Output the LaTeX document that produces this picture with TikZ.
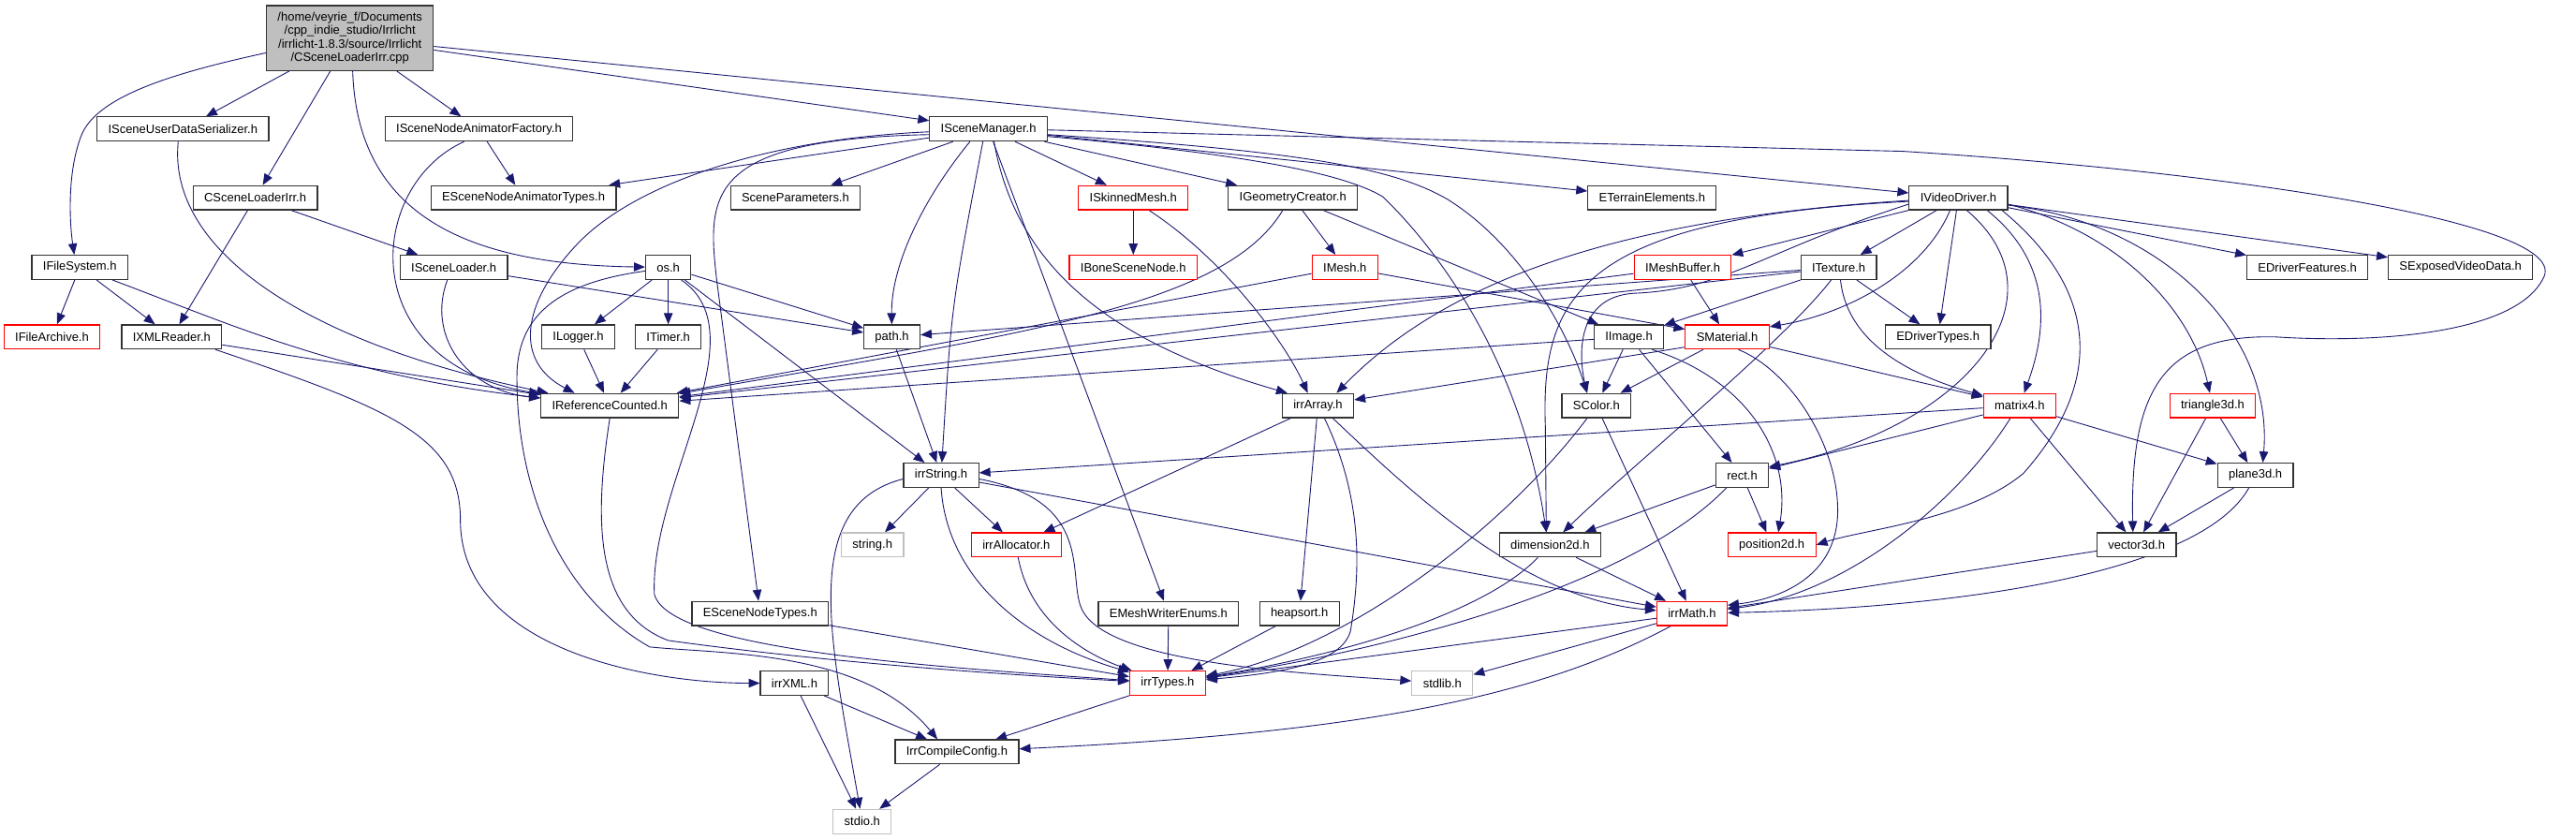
\documentclass[tikz,border=0pt]{standalone}
\usepackage{fontspec}
\newfontfamily\graphfont{Liberation Sans}
\usetikzlibrary{arrows.meta}
\definecolor{edgeblue}{HTML}{191970}
\definecolor{rootgray}{HTML}{BFBFBF}
\definecolor{sysgray}{HTML}{C0C0C0}
\pgfdeclarelayer{bg}
\pgfdeclarelayer{edges}
\pgfsetlayers{bg,edges,main}
\begin{document}
\begin{tikzpicture}[x=1pt, y=-1pt, font=\graphfont\fontsize{13.1pt}{14.7pt}\selectfont, >={Triangle[length=12pt,width=9.5pt]},
    hdr/.style={draw=black!80, fill=white, line width=1.2pt, minimum height=26pt, inner xsep=12pt, inner ysep=0pt},
    hdrred/.style={hdr, draw=red},
    hdrsys/.style={hdr, draw=sysgray},
    src/.style={hdr, fill=rootgray, minimum width=178pt, minimum height=70pt, align=center},
    dep/.style={->, draw=edgeblue, line width=0.9pt}]
  \begin{pgfonlayer}{bg}
    \path[fill=white] (0,0) rectangle (2751,904);
  \end{pgfonlayer}
  \node[src] (cpp) at (377,41) {/home/veyrie\_f/Documents\\/cpp\_indie\_studio/Irrlicht\\/irrlicht-1.8.3/source/Irrlicht\\/CSceneLoaderIrr.cpp};
  \node[hdr] (usrser) at (197,139) {ISceneUserDataSerializer.h};
  \node[hdr] (animfac) at (516,139) {ISceneNodeAnimatorFactory.h};
  \node[hdr] (smgr) at (1065,139) {ISceneManager.h};
  \node[hdr] (ldrirr) at (275,213) {CSceneLoaderIrr.h};
  \node[hdr] (animtyp) at (564,213) {ESceneNodeAnimatorTypes.h};
  \node[hdr] (params) at (857,213) {SceneParameters.h};
  \node[hdrred] (skinned) at (1221,213) {ISkinnedMesh.h};
  \node[hdr] (geocr) at (1393,213) {IGeometryCreator.h};
  \node[hdr] (terrain) at (1780,213) {ETerrainElements.h};
  \node[hdr] (driver) at (2110,213) {IVideoDriver.h};
  \node[hdr] (filesys) at (86,288) {IFileSystem.h};
  \node[hdr] (sldr) at (489,288) {ISceneLoader.h};
  \node[hdr] (os) at (720,288) {os.h};
  \node[hdrred] (bone) at (1221,288) {IBoneSceneNode.h};
  \node[hdrred] (mesh) at (1449,288) {IMesh.h};
  \node[hdrred] (mbuf) at (1813,288) {IMeshBuffer.h};
  \node[hdr] (tex) at (1981,288) {ITexture.h};
  \node[hdr] (dfeat) at (2486,288) {EDriverFeatures.h};
  \node[hdr] (expvid) at (2651,288) {SExposedVideoData.h};
  \node[hdrred] (archive) at (56,363) {IFileArchive.h};
  \node[hdr] (xmlrd) at (185,363) {IXMLReader.h};
  \node[hdr] (logger) at (623,363) {ILogger.h};
  \node[hdr] (timer) at (720,363) {ITimer.h};
  \node[hdr] (path) at (961,363) {path.h};
  \node[hdr] (image) at (1755,363) {IImage.h};
  \node[hdrred] (smat) at (1861,363) {SMaterial.h};
  \node[hdr] (dtypes) at (2088,363) {EDriverTypes.h};
  \node[hdr] (refcnt) at (657,437) {IReferenceCounted.h};
  \node[hdr] (arr) at (1420,437) {irrArray.h};
  \node[hdr] (color) at (1720,437) {SColor.h};
  \node[hdrred] (mat4) at (2176,437) {matrix4.h};
  \node[hdrred] (tri3) at (2384,437) {triangle3d.h};
  \node[hdr] (str) at (1014,512) {irrString.h};
  \node[hdr] (rect) at (1877,512) {rect.h};
  \node[hdr] (plane) at (2430,512) {plane3d.h};
  \node[hdrsys] (stringh) at (940,587) {string.h};
  \node[hdrred] (alloc) at (1095,587) {irrAllocator.h};
  \node[hdr] (dim) at (1670,587) {dimension2d.h};
  \node[hdrred] (pos) at (1909,587) {position2d.h};
  \node[hdr] (vec) at (2302,587) {vector3d.h};
  \node[hdr] (sntypes) at (819,661) {ESceneNodeTypes.h};
  \node[hdr] (mwenum) at (1259,661) {EMeshWriterEnums.h};
  \node[hdr] (heap) at (1400,661) {heapsort.h};
  \node[hdrred] (math) at (1823,661) {irrMath.h};
  \node[hdr] (xml) at (856,736) {irrXML.h};
  \node[hdrred] (types) at (1258,736) {irrTypes.h};
  \node[hdrsys] (stdlib) at (1554,736) {stdlib.h};
  \node[hdr] (cfg) at (1031,810) {IrrCompileConfig.h};
  \node[hdrsys] (stdio) at (929,885) {stdio.h};
  \begin{pgfonlayer}{edges}
  \draw[dep] (cpp) -- (usrser);
  \draw[dep] (cpp) -- (ldrirr);
  \draw[dep] (cpp) -- (animfac);
  \draw[dep] (cpp) -- (smgr);
  \draw[dep] (cpp) -- (driver);
  \draw[dep] (cpp.190) .. controls (180,80) and (105,105) .. (88,145) .. controls (72,185) and (75,240) .. ([xshift=-6pt]filesys.north);
  \draw[dep] ([xshift=3pt]cpp.south) .. controls (385,230) and (500,285) .. (os);
  \draw[dep] (smgr) -- (params);
  \draw[dep] (smgr) -- (skinned);
  \draw[dep] (smgr) -- (geocr);
  \draw[dep] (smgr) -- (terrain);
  \draw[dep] (smgr) -- (animtyp);
  \draw[dep] (smgr) -- (mwenum);
  \draw[dep] ([xshift=-6pt]smgr.south) .. controls (1025,330) .. (str);
  \draw[dep] ([xshift=-20pt]smgr.south) .. controls (990,220) and (960,290) .. (path);
  \draw[dep] ([yshift=-3pt]smgr.west) .. controls (820,150) and (680,200) .. (620,265) .. controls (560,330) and (555,390) .. ([xshift=-38pt]refcnt.north);
  \draw[dep] ([yshift=-6pt]smgr.west) .. controls (760,150) and (762,210) .. (772,300) -- (sntypes);
  \draw[dep] ([xshift=6pt]smgr.south) .. controls (1095,290) and (1200,370) .. ([xshift=-33pt]arr.north);
  \draw[dep] ([yshift=-8pt]smgr.east) .. controls (1330,165) and (1445,185) .. (1490,212) .. controls (1560,280) and (1640,400) .. ([xshift=-4pt]dim.north);
  \draw[dep] ([yshift=-6pt]smgr.east) .. controls (1400,163) and (1500,180) .. (1560,215) .. controls (1640,265) and (1690,360) .. ([xshift=-10pt]color.north);
  \draw[dep] ([yshift=-1pt]smgr.east) -- (2050,163) .. controls (2400,185) and (2775,240) .. (2740,300) .. controls (2710,360) and (2560,370) .. (2452,363) .. controls (2330,360) and (2295,420) .. ([xshift=-4pt]vec.north);
  \draw[dep] (driver) -- (mbuf);
  \draw[dep] (driver) -- (tex);
  \draw[dep] (driver) -- (dtypes);
  \draw[dep] (driver) -- (dfeat);
  \draw[dep] (driver) -- (expvid);
  \draw[dep] ([xshift=31pt]driver.south) .. controls (2220,290) and (2200,370) .. (mat4);
  \draw[dep] ([yshift=-7pt]driver.east) .. controls (2280,250) and (2360,330) .. (tri3);
  \draw[dep] ([yshift=-8pt]driver.east) .. controls (2330,240) and (2450,360) .. ([xshift=8pt]plane.north);
  \draw[dep] ([xshift=47pt]driver.south) .. controls (2270,320) and (2260,420) .. (2180,510) .. controls (2120,560) and (2010,570) .. (pos.east);
  \draw[dep] ([xshift=9pt]driver.south) .. controls (2230,320) and (2120,460) .. ([yshift=9pt]rect.east);
  \draw[dep] ([yshift=-4pt]driver.west) .. controls (1700,235) and (1660,320) .. (1665,460) -- ([xshift=-4pt]dim.north);
  \draw[dep] ([yshift=-7pt]driver.west) .. controls (1900,270) and (1860,312) .. (1760,316) .. controls (1700,320) and (1700,380) .. ([xshift=-10pt]color.north);
  \draw[dep] ([yshift=-3pt]driver.west) .. controls (1750,235) and (1560,300) .. ([xshift=20pt]arr.north);
  \draw[dep] ([xshift=-9pt]driver.south) .. controls (2070,300) and (1980,340) .. ([yshift=11pt]smat.east);
  \draw[dep] (tex) -- (refcnt);
  \draw[dep] (tex) -- (path);
  \draw[dep] (tex) -- (image);
  \draw[dep] ([xshift=-8pt]tex.south) .. controls (1920,370) and (1760,500) .. (dim);
  \draw[dep] (tex) -- (dtypes);
  \draw[dep] ([xshift=2pt]tex.south) .. controls (1990,370) and (2060,405) .. (mat4);
  \draw[dep] (mbuf) -- (refcnt);
  \draw[dep] (mbuf) -- (smat);
  \draw[dep] (mesh) -- (refcnt);
  \draw[dep] (mesh) -- (smat);
  \draw[dep] (geocr) -- (mesh);
  \draw[dep] (geocr) -- (image);
  \draw[dep] ([xshift=-11pt]geocr.south) .. controls (1320,330) and (1100,360) .. (refcnt);
  \draw[dep] (skinned) -- (bone);
  \draw[dep] ([xshift=17pt]skinned.south) .. controls (1320,280) and (1385,370) .. ([xshift=-11pt]arr.north);
  \draw[dep] (image) -- (refcnt);
  \draw[dep] (image) -- (color);
  \draw[dep] (image) -- (rect);
  \draw[dep] ([xshift=25pt]image.south) .. controls (1885,410) and (1930,490) .. ([xshift=7pt]pos.north);
  \draw[dep] ([yshift=-11pt]smat.west) -- (arr);
  \draw[dep] (smat) -- (color);
  \draw[dep] (smat) -- (mat4);
  \draw[dep] ([xshift=12pt]smat.south) .. controls (1930,400) and (1980,480) .. (1980,550) .. controls (1980,620) and (1920,645) .. ([yshift=9pt]math.east);
  \draw[dep] (arr) -- (alloc);
  \draw[dep] (arr) -- (heap);
  \draw[dep] ([xshift=7pt]arr.south) .. controls (1470,540) and (1465,620) .. (1455,680) .. controls (1445,715) and (1380,725) .. (types);
  \draw[dep] ([xshift=16pt]arr.south) .. controls (1520,530) and (1640,645) .. (math);
  \draw[dep] ([xshift=-10pt]color.south) .. controls (1620,570) and (1450,700) .. (types);
  \draw[dep] (color) -- (math);
  \draw[dep] (rect) -- (dim);
  \draw[dep] (rect) -- (pos);
  \draw[dep] ([xshift=-17pt]rect.south) .. controls (1760,630) and (1500,700) .. (types);
  \draw[dep] (dim) -- (math);
  \draw[dep] ([xshift=-13pt]dim.south) .. controls (1600,660) and (1450,705) .. (types);
  \draw[dep] (math) -- (types);
  \draw[dep] (math) -- (stdlib);
  \draw[dep] ([xshift=-23pt]math.south) .. controls (1650,755) and (1450,790) .. (cfg);
  \draw[dep] (mat4) -- (str);
  \draw[dep] (mat4) -- (rect);
  \draw[dep] ([xshift=-10pt]mat4.south) .. controls (2110,540) and (1990,640) .. (math);
  \draw[dep] (mat4) -- (vec);
  \draw[dep] (mat4) -- (plane);
  \draw[dep] (tri3) -- (vec);
  \draw[dep] (tri3) -- (plane);
  \draw[dep] (plane) -- (vec);
  \draw[dep] ([xshift=-7pt]plane.south) .. controls (2370,620) and (2100,655) .. (math);
  \draw[dep] (vec) -- (math);
  \draw[dep] (str) -- (stringh);
  \draw[dep] (str) -- (alloc);
  \draw[dep] (str) -- (math);
  \draw[dep] (str.south) .. controls (1020,620) and (1100,690) .. (types);
  \draw[dep] ([yshift=-4pt]str.west) .. controls (860,545) and (895,690) .. (stdio);
  \draw[dep] ([yshift=-4pt]str.east) .. controls (1180,540) and (1150,620) .. (1165,655) .. controls (1190,715) and (1400,725) .. (stdlib);
  \draw[dep] ([xshift=2pt]alloc.south) .. controls (1110,670) and (1170,705) .. (types);
  \draw[dep] (sntypes) -- (types);
  \draw[dep] (mwenum) -- (types);
  \draw[dep] (heap) -- (types);
  \draw[dep] (types) -- (cfg);
  \draw[dep] (xml) -- (stdio);
  \draw[dep] (xml) -- (cfg);
  \draw[dep] (cfg) -- (stdio);
  \draw[dep] (refcnt.south) .. controls (640,560) and (640,660) .. (720,690) .. controls (900,715) and (1100,728) .. (types);
  \draw[dep] (os) -- (str);
  \draw[dep] (os) -- (path);
  \draw[dep] (os) -- (logger);
  \draw[dep] (os) -- (timer);
  \draw[dep] ([xshift=14pt]os.south) .. controls (820,360) and (700,520) .. (705,640) .. controls (720,700) and (1000,718) .. (types);
  \draw[dep] ([yshift=-4pt]os.west) .. controls (600,305) and (560,340) .. (557,400) .. controls (555,520) and (600,640) .. (700,697) .. controls (780,705) and (930,700) .. ([xshift=-21pt]cfg.north);
  \draw[dep] (path) -- (str);
  \draw[dep] ([xshift=-7pt]sldr.south) .. controls (460,360) and (500,420) .. (refcnt);
  \draw[dep] (sldr) -- (path);
  \draw[dep] ([xshift=-5pt]usrser.south) .. controls (180,270) and (330,370) .. (refcnt);
  \draw[dep] (animfac) -- (animtyp);
  \draw[dep] ([xshift=-16pt]animfac.south) .. controls (395,200) and (380,390) .. (refcnt);
  \draw[dep] (filesys) -- (archive);
  \draw[dep] (filesys) -- (xmlrd);
  \draw[dep] ([xshift=35pt]filesys.south) .. controls (250,350) and (370,405) .. (refcnt);
  \draw[dep] (ldrirr) -- (xmlrd);
  \draw[dep] (ldrirr) -- (sldr);
  \draw[dep] (xmlrd) -- (refcnt);
  \draw[dep] ([xshift=47pt]xmlrd.south) .. controls (420,440) and (496,470) .. (496,560) .. controls (496,700) and (700,736) .. (xml);
  \draw[dep] (logger) -- (refcnt);
  \draw[dep] (timer) -- (refcnt);
  \end{pgfonlayer}
\end{tikzpicture}
\end{document}
